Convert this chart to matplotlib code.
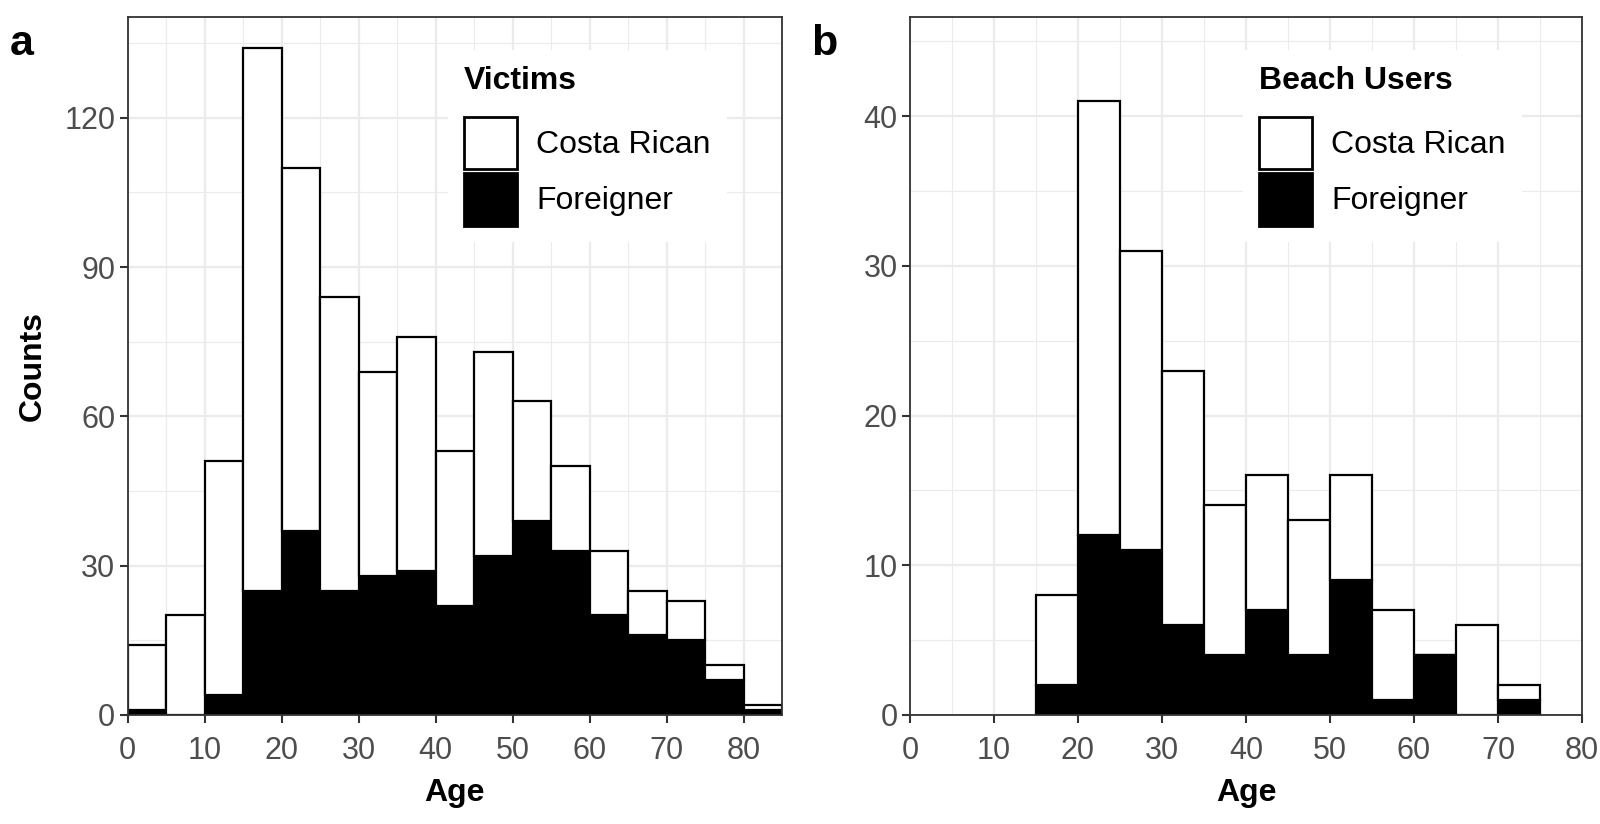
import matplotlib
matplotlib.use("Agg")
import matplotlib.pyplot as plt
from matplotlib.patches import Patch
from matplotlib.ticker import MultipleLocator
import numpy as np

plt.rcParams['font.family'] = ['Liberation Sans', 'DejaVu Sans']

# ---- data ----
bin_width = 5
victims_bins = list(range(0, 85, 5))          # left edges 0..80
victims_total = [14, 20, 51, 134, 110, 84, 69, 76, 53, 73, 63, 50, 33, 25, 23, 10, 2]
victims_foreign = [1, 0, 4, 25, 37, 25, 28, 29, 22, 32, 39, 33, 20, 16, 15, 7, 1]

users_bins = list(range(15, 75, 5))            # left edges 15..70
users_total = [8, 41, 31, 23, 14, 16, 13, 16, 7, 4, 6, 2]
users_foreign = [2, 12, 11, 6, 4, 7, 4, 9, 1, 4, 0, 1]

labels = ["Costa Rican", "Foreigner"]
titles = ["Victims", "Beach Users"]

W, H = 1600, 824
fig = plt.figure(figsize=(W / 100, H / 100), dpi=100)

def fx(px):
    return px / W

def fy(py):
    return 1 - py / H

ax_a = fig.add_axes([fx(127.7), fy(715), fx(782) - fx(127.7), fy(17.3) - fy(715)])
ax_b = fig.add_axes([fx(910), fy(715), fx(1582) - fx(910), fy(17.3) - fy(715)])

grid_major = '#EBEBEB'
border = '#333333'
tickc = '#4D4D4D'

def draw(ax, bins, total, foreign, xlim, ylim, xmaj, ymaj, title, leg_anchor):
    bins = np.asarray(bins, float)
    total = np.asarray(total, float)
    foreign = np.asarray(foreign, float)
    costa = total - foreign
    ax.set_axisbelow(True)
    ax.bar(bins, foreign, width=bin_width, align='edge', color='black',
           edgecolor='black', linewidth=1.6, zorder=2)
    ax.bar(bins, costa, bottom=foreign, width=bin_width, align='edge',
           color='white', edgecolor='black', linewidth=1.6, zorder=2)
    ax.set_xlim(*xlim)
    ax.set_ylim(*ylim)
    ax.xaxis.set_major_locator(MultipleLocator(xmaj))
    ax.xaxis.set_minor_locator(MultipleLocator(xmaj / 2))
    ax.yaxis.set_major_locator(MultipleLocator(ymaj))
    ax.yaxis.set_minor_locator(MultipleLocator(ymaj / 2))
    ax.grid(which='major', color=grid_major, linewidth=1.6)
    ax.grid(which='minor', color=grid_major, linewidth=0.8)
    for s in ax.spines.values():
        s.set_color(border)
        s.set_linewidth(1.3)
    ax.tick_params(which='major', length=6, width=1.5, color=border,
                   labelsize=22, labelcolor=tickc, pad=3)
    ax.tick_params(axis='x', which='major', pad=9)
    ax.tick_params(which='minor', length=0)
    ax.set_xlabel("Age", fontsize=23, fontweight='bold', labelpad=9)
    handles = [Patch(facecolor='white', edgecolor='black', linewidth=2.0),
               Patch(facecolor='black', edgecolor='black', linewidth=2.0)]
    leg = ax.legend(handles, labels, title=title, loc='upper left',
                    bbox_to_anchor=leg_anchor, fontsize=23,
                    title_fontproperties={'weight': 'bold', 'size': 23},
                    frameon=True, fancybox=False, framealpha=1,
                    edgecolor='white', facecolor='white',
                    handlelength=1.65, handleheight=2.15, handletextpad=0.62,
                    labelspacing=0.12, borderpad=0.5, borderaxespad=0,
                    alignment='left')
    leg.get_frame().set_linewidth(0)
    leg._legend_box.sep = 15

draw(ax_a, victims_bins, victims_total, victims_foreign, (0, 85), (0, 140.2),
     10, 30, titles[0], ((448 - 127.7) / 654.3, (715 - 50) / 697.7))
draw(ax_b, users_bins, users_total, users_foreign, (0, 80), (0, 46.6),
     10, 10, titles[1], ((1243 - 910) / 672, (715 - 50) / 697.7))

ax_a.set_ylabel("Counts", fontsize=23, fontweight='bold', labelpad=12)

fig.text(fx(10), fy(44), "a", fontsize=31, fontweight='bold', va='center', ha='left')
fig.text(fx(811), fy(44), "b", fontsize=31, fontweight='bold', va='center', ha='left')

fig.savefig("out.png", dpi=100, facecolor='white')
